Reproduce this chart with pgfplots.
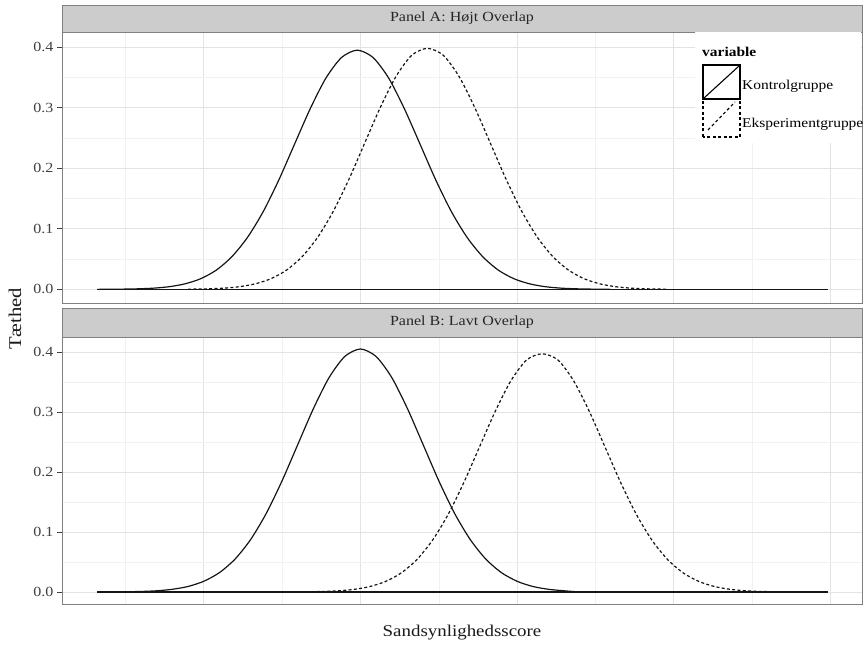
\documentclass[border=0pt]{standalone}
\usepackage{fontspec}
\setmainfont{Liberation Serif}[FakeStretch=1.15]
\usepackage{pgfplots}
\pgfplotsset{compat=1.18}
\definecolor{gridmaj}{HTML}{E3E3E3}
\definecolor{gridmin}{HTML}{F1F1F1}
\definecolor{bordergray}{HTML}{808080}
\definecolor{stripfill}{HTML}{CCCCCC}
\definecolor{ticklab}{HTML}{404040}
\definecolor{curve}{HTML}{151515}
\newcommand{\fs}[1]{\fontsize{#1}{#1}\selectfont}
\pgfplotsset{
  panel/.style={
    scale only axis, width=800bp, xmin=-4.76, xmax=8.0,
    axis line style={draw=bordergray, line width=0.9bp},
    xtick={-2.5,0,2.5,5,7.5}, minor xtick={-3.75,-1.25,1.25,3.75,6.25},
    xticklabels={},
    ytick={0,0.1,0.2,0.3,0.4}, minor ytick={0.05,0.15,0.25,0.35},
    ytick pos=left,
    yticklabel style={/pgf/number format/.cd, fixed, fixed zerofill, precision=1, assume math mode=true},
    ticklabel style={font=\fs{14}, text=ticklab},
    grid=both,
    major grid style={draw=gridmaj, line width=0.9bp},
    minor grid style={draw=gridmin, line width=0.6bp},
    tick align=outside, major tick length=5bp, minor tick length=0pt,
    x tick style={draw=none},
    y tick style={draw=black!75, line width=0.9bp},
  },
  solidc/.style={draw=curve, line width=1.2bp, no marks, smooth, tension=0.45},
  dashc/.style={draw=curve, line width=1.2bp, no marks, smooth, tension=0.45, dash pattern=on 3bp off 2.3bp},
}
\begin{document}
\begin{tikzpicture}
\useasboundingbox (0,0) rectangle (864bp,645bp);
% ---------------- Panel A ----------------
\begin{axis}[panel, at={(62bp,342bp)}, anchor=south west, height=271bp, ymin=-0.0225, ymax=0.425]
\addplot[draw=curve, line width=1.2bp, no marks] coordinates {(-4.2,0) (7.45,0)};
\addplot[solidc] coordinates {
(-4.2,0) (-3.8,0.0004) (-3.55,0.0009) (-3.3,0.0020) (-3.05,0.0044) (-2.8,0.0091)
(-2.55,0.0175) (-2.3,0.0317) (-2.05,0.0540) (-1.8,0.0860) (-1.55,0.1285) (-1.3,0.1810)
(-1.05,0.2400) (-0.8,0.2985) (-0.55,0.3490) (-0.3,0.3830) (-0.05,0.3950) (0.2,0.3830)
(0.45,0.3490) (0.7,0.2985) (0.95,0.2400) (1.2,0.1810) (1.45,0.1285) (1.7,0.0860)
(1.95,0.0540) (2.2,0.0317) (2.45,0.0175) (2.7,0.0091) (2.95,0.0044) (3.2,0.0020)
(3.45,0.0009) (3.7,0.0004) (4.0,0)};
\addplot[dashc] coordinates {
(-2.75,0) (-2.68,0.0004) (-2.43,0.0009) (-2.18,0.0020) (-1.93,0.0044) (-1.68,0.0091)
(-1.43,0.0175) (-1.18,0.0317) (-0.93,0.0540) (-0.68,0.0863) (-0.43,0.1295) (-0.18,0.1826)
(0.07,0.2420) (0.32,0.3011) (0.57,0.3521) (0.82,0.3867) (1.07,0.3980) (1.32,0.3867)
(1.57,0.3521) (1.82,0.3011) (2.07,0.2420) (2.32,0.1826) (2.57,0.1295) (2.82,0.0863)
(3.07,0.0540) (3.32,0.0317) (3.57,0.0175) (3.82,0.0091) (4.07,0.0044) (4.32,0.0020)
(4.57,0.0009) (4.82,0.0004) (4.9,0)};
\end{axis}
\draw[draw=bordergray, fill=stripfill, line width=0.9bp] (62bp,613bp) rectangle (862bp,640bp);
\node[font=\fs{14}, text=black!85] at (462bp,626.5bp) {Panel A: Højt Overlap};
% ---------------- Panel B ----------------
\begin{axis}[panel, at={(62bp,41bp)}, anchor=south west, height=267bp, ymin=-0.02, ymax=0.425]
\addplot[draw=curve, line width=1.2bp, no marks] coordinates {(-4.2,0) (7.45,0)};
\addplot[solidc] coordinates {
(-4.2,0) (-3.75,0.0004) (-3.5,0.0009) (-3.25,0.0020) (-3.0,0.0045) (-2.75,0.0092)
(-2.5,0.0178) (-2.25,0.0322) (-2.0,0.0548) (-1.75,0.0876) (-1.5,0.1314) (-1.25,0.1853)
(-1.0,0.2456) (-0.75,0.3056) (-0.5,0.3574) (-0.25,0.3925) (0,0.4050) (0.25,0.3925)
(0.5,0.3574) (0.75,0.3056) (1.0,0.2456) (1.25,0.1853) (1.5,0.1314) (1.75,0.0876)
(2.0,0.0548) (2.25,0.0322) (2.5,0.0178) (2.75,0.0092) (3.0,0.0045) (3.25,0.0020)
(3.5,0)};
\addplot[dashc] coordinates {
(-0.95,0) (-0.85,0.0004) (-0.6,0.0009) (-0.35,0.0020) (-0.1,0.0044) (0.15,0.0091)
(0.4,0.0175) (0.65,0.0317) (0.9,0.0540) (1.15,0.0863) (1.4,0.1295) (1.65,0.1826)
(1.9,0.2420) (2.15,0.3011) (2.4,0.3521) (2.65,0.3867) (2.9,0.3970) (3.15,0.3867)
(3.4,0.3521) (3.65,0.3011) (3.9,0.2420) (4.15,0.1826) (4.4,0.1295) (4.65,0.0863)
(4.9,0.0540) (5.15,0.0317) (5.4,0.0175) (5.65,0.0091) (5.9,0.0044) (6.15,0.0020)
(6.4,0.0009) (6.65,0.0004) (6.9,0)};
\end{axis}
\draw[draw=bordergray, fill=stripfill, line width=0.9bp] (62bp,308bp) rectangle (862bp,337bp);
\node[font=\fs{14}, text=black!85] at (462bp,322.5bp) {Panel B: Lavt Overlap};
% ---------------- axis titles ----------------
\node[font=\fs{18}, rotate=90, text=black!90] at (15bp,326bp) {Tæthed};
\node[font=\fs{16.5}, text=black!90] at (462bp,12bp) {Sandsynlighedsscore};
% ---------------- legend ----------------
\fill[white] (695bp,502bp) rectangle (861bp,612.5bp);
\node[font=\fs{13.5}\bfseries, anchor=west, inner sep=0pt] at (702bp,593bp) {variable};
\draw[black, line width=1.1bp] (703bp,546bp) rectangle (740bp,580bp);
\draw[black, line width=1.1bp] (704bp,547bp) -- (739bp,579bp);
\draw[black, line width=1.1bp, dash pattern=on 3bp off 2.5bp] (703bp,508bp) rectangle (740bp,546bp);
\draw[black, line width=1.1bp, dash pattern=on 3bp off 2.5bp] (708bp,515bp) -- (735bp,543bp);
\node[font=\fs{13.5}, anchor=west, inner sep=0pt] at (742bp,559bp) {Kontrolgruppe};
\node[font=\fs{13.5}, anchor=west, inner sep=0pt] at (742bp,521bp) {Eksperimentgruppe};
\end{tikzpicture}
\end{document}
